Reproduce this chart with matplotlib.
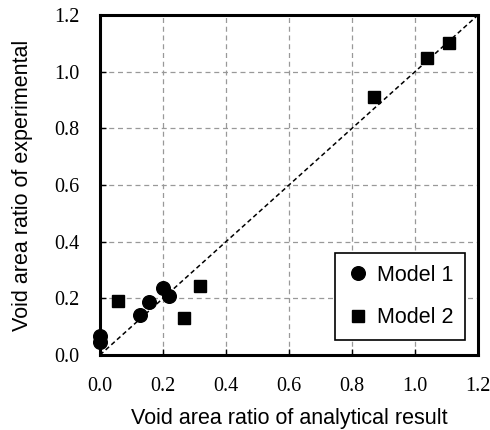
import matplotlib
matplotlib.use("Agg")
import matplotlib.pyplot as plt

m1_x = [0.0, 0.0, 0.127, 0.157, 0.201, 0.220]
m1_y = [0.067, 0.045, 0.141, 0.188, 0.235, 0.209]
m2_x = [0.058, 0.268, 0.318, 0.871, 1.037, 1.107]
m2_y = [0.192, 0.132, 0.244, 0.912, 1.049, 1.100]
ticks = [0.0, 0.2, 0.4, 0.6, 0.8, 1.0, 1.2]

fig = plt.figure(figsize=(4.9, 4.3), dpi=100)
ax = fig.add_axes([0.204, 0.1744, 0.7715, 0.7906])

ax.plot([0, 1.2], [0, 1.2], linestyle=(0, (3, 2)), color="black", lw=1.1, zorder=2)
ax.plot(m1_x, m1_y, "o", color="black", ms=9.8, label="Model 1", zorder=3, clip_on=False)
ax.plot(m2_x, m2_y, "s", color="black", ms=9, label="Model 2", zorder=3, clip_on=False)

ax.set_xlim(0, 1.2)
ax.set_ylim(0, 1.2)
ax.set_xticks(ticks)
ax.set_yticks(ticks)
ax.set_xticklabels([f"{t:.1f}" for t in ticks], family="Liberation Serif", fontsize=14.5)
ax.set_yticklabels([f"{t:.1f}" for t in ticks], family="Liberation Serif", fontsize=14.5)
ax.tick_params(direction="in", length=4, width=1)
ax.tick_params(axis="x", pad=16)
ax.tick_params(axis="y", pad=15)
ax.grid(True, color="#999999", linestyle=(0, (4, 3)), lw=0.9)
ax.set_axisbelow(True)
for s in ax.spines.values():
    s.set_linewidth(2.2)
    s.set_color("black")

ax.set_xlabel("Void area ratio of analytical result", family="Liberation Sans", fontsize=15.5, labelpad=8.5)
ax.set_ylabel("Void area ratio of experimental", family="Liberation Sans", fontsize=15.5, labelpad=15)

leg = ax.legend(loc="lower right", bbox_to_anchor=(0.966, 0.044), prop={"family": "Liberation Sans", "size": 15.5},
                frameon=True, fancybox=False, edgecolor="black", framealpha=1, handletextpad=0.38,
                borderpad=0.55, labelspacing=1.0, handlelength=1.0, borderaxespad=0)
leg.get_frame().set_linewidth(1.2)

fig.savefig("out.png", dpi=100)
